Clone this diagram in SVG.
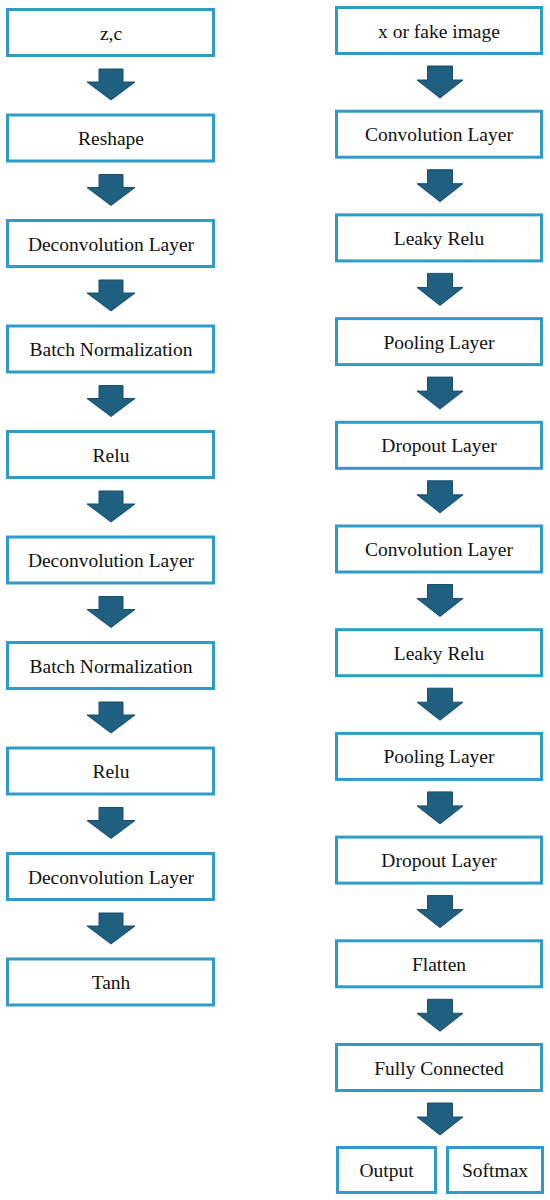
<svg xmlns="http://www.w3.org/2000/svg" xmlns:xlink="http://www.w3.org/1999/xlink" width="550" height="1200" viewBox="0 0 550 1200">
<style>
.box{fill:#fff;stroke:#2E9BC9;stroke-width:3}
.lbl{font-family:'Liberation Serif','DejaVu Serif',serif;font-size:19.5px;fill:#111;text-anchor:middle}
.arr{fill:#1F5F80;stroke:#184E6A;stroke-width:1}
</style>
<defs>
<path id="arrowL" d="M-12,0 H12 V13 H24 L0,31 L-24,13 H-12 Z"/>
<path id="arrowR" d="M-12.5,0 H12.5 V14 H23 L0,32 L-23,14 H-12.5 Z"/>
</defs>
<rect width="550" height="1200" fill="#fff"/>
<g id="connectors" class="arr">
<use xlink:href="#arrowL" x="111" y="69"/>
<use xlink:href="#arrowL" x="111" y="174.5"/>
<use xlink:href="#arrowL" x="111" y="280"/>
<use xlink:href="#arrowL" x="111" y="385.5"/>
<use xlink:href="#arrowL" x="111" y="491"/>
<use xlink:href="#arrowL" x="111" y="596.5"/>
<use xlink:href="#arrowL" x="111" y="702"/>
<use xlink:href="#arrowL" x="111" y="807.5"/>
<use xlink:href="#arrowL" x="111" y="913"/>
<use xlink:href="#arrowR" x="440" y="66"/>
<use xlink:href="#arrowR" x="440" y="169.7"/>
<use xlink:href="#arrowR" x="440" y="273.4"/>
<use xlink:href="#arrowR" x="440" y="377.1"/>
<use xlink:href="#arrowR" x="440" y="480.8"/>
<use xlink:href="#arrowR" x="440" y="584.5"/>
<use xlink:href="#arrowR" x="440" y="688.2"/>
<use xlink:href="#arrowR" x="440" y="791.9"/>
<use xlink:href="#arrowR" x="440" y="895.6"/>
<use xlink:href="#arrowR" x="440" y="999.3"/>
<use xlink:href="#arrowR" x="440" y="1103"/>
</g>
<g id="g_zc"><rect class="box" x="7.5" y="9.5" width="206" height="46"/><text class="lbl" font-family="Liberation Serif" x="111" y="39.5">z,c</text></g>
<g id="g_reshape"><rect class="box" x="7.5" y="115" width="206" height="46"/><text class="lbl" x="111" y="145">Reshape</text></g>
<g id="g_deconv1"><rect class="box" x="7.5" y="220.5" width="206" height="46"/><text class="lbl" x="111" y="250.5">Deconvolution Layer</text></g>
<g id="g_bn1"><rect class="box" x="7.5" y="326" width="206" height="46"/><text class="lbl" x="111" y="356">Batch Normalization</text></g>
<g id="g_relu1"><rect class="box" x="7.5" y="431.5" width="206" height="46"/><text class="lbl" x="111" y="461.5">Relu</text></g>
<g id="g_deconv2"><rect class="box" x="7.5" y="537" width="206" height="46"/><text class="lbl" x="111" y="567">Deconvolution Layer</text></g>
<g id="g_bn2"><rect class="box" x="7.5" y="642.5" width="206" height="46"/><text class="lbl" x="111" y="672.5">Batch Normalization</text></g>
<g id="g_relu2"><rect class="box" x="7.5" y="748" width="206" height="46"/><text class="lbl" x="111" y="778">Relu</text></g>
<g id="g_deconv3"><rect class="box" x="7.5" y="853.5" width="206" height="46"/><text class="lbl" x="111" y="883.5">Deconvolution Layer</text></g>
<g id="g_tanh"><rect class="box" x="7.5" y="959" width="206" height="46"/><text class="lbl" x="111" y="989">Tanh</text></g>

<g id="d_input"><rect class="box" x="336.5" y="7.5" width="205" height="46"/><text class="lbl" x="439" y="37.5">x or fake image</text></g>
<g id="d_conv1"><rect class="box" x="336.5" y="111.2" width="205" height="46"/><text class="lbl" x="439" y="141.2">Convolution Layer</text></g>
<g id="d_leaky1"><rect class="box" x="336.5" y="214.9" width="205" height="46"/><text class="lbl" x="439" y="244.9">Leaky Relu</text></g>
<g id="d_pool1"><rect class="box" x="336.5" y="318.6" width="205" height="46"/><text class="lbl" x="439" y="348.6">Pooling Layer</text></g>
<g id="d_drop1"><rect class="box" x="336.5" y="422.3" width="205" height="46"/><text class="lbl" x="439" y="452.3">Dropout Layer</text></g>
<g id="d_conv2"><rect class="box" x="336.5" y="526" width="205" height="46"/><text class="lbl" x="439" y="556">Convolution Layer</text></g>
<g id="d_leaky2"><rect class="box" x="336.5" y="629.7" width="205" height="46"/><text class="lbl" x="439" y="659.7">Leaky Relu</text></g>
<g id="d_pool2"><rect class="box" x="336.5" y="733.4" width="205" height="46"/><text class="lbl" x="439" y="763.4">Pooling Layer</text></g>
<g id="d_drop2"><rect class="box" x="336.5" y="837.1" width="205" height="46"/><text class="lbl" x="439" y="867.1">Dropout Layer</text></g>
<g id="d_flatten"><rect class="box" x="336.5" y="940.8" width="205" height="46"/><text class="lbl" x="439" y="970.8">Flatten</text></g>
<g id="d_fc"><rect class="box" x="336.5" y="1044.5" width="205" height="46"/><text class="lbl" x="439" y="1074.5">Fully Connected</text></g>
<g id="d_output"><rect class="box" x="337.5" y="1147.5" width="98" height="45"/><text class="lbl" x="386.5" y="1177">Output</text></g>
<g id="d_softmax"><rect class="box" x="447.5" y="1147.5" width="95" height="45"/><text class="lbl" x="495" y="1177">Softmax</text></g>
</svg>
